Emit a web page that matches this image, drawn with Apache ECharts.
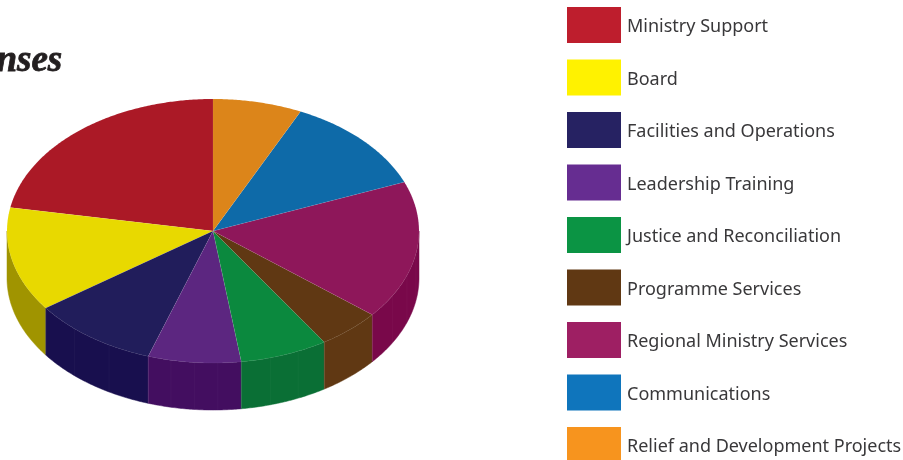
<!DOCTYPE html>
<html>
<head>
<meta charset="utf-8">
<style>html,body{margin:0;padding:0;background:#fff;overflow:hidden}#chart{width:903px;height:460px}</style>
<script src="https://cdn.jsdelivr.net/npm/echarts@6/dist/echarts.min.js"></script>
</head>
<body>
<div id="chart"></div>
<script>
// Expense shares, in percent, in legend order (counter-clockwise from 12 o'clock).
const categories = ['Ministry Support', 'Board', 'Facilities and Operations', 'Leadership Training',
  'Justice and Reconciliation', 'Programme Services', 'Regional Ministry Services', 'Communications',
  'Relief and Development Projects'];
const shares = [22.2, 12.8, 10.0, 7.3, 6.9, 5.0, 17.0, 12.0, 7.0];
const swatchColors = ['#be1e2d', '#fff200', '#262262', '#662d91', '#0b9444', '#603813', '#9e1f63', '#0f75bc', '#f7941e'];
const topColors = ['#ab1926', '#e8d900', '#211d5b', '#5c2680', '#0b893e', '#603813', '#8e175a', '#0e6aa8', '#dc851a'];
const wallColors = ['#7d0f1a', '#a09400', '#180f4e', '#430e60', '#0a6f35', '#603813', '#79084a', '#0b4d7c', '#a8650f'];
const wallPanels = [1, 1, 3, 4, 3, 1, 4, 1, 1];

// Tilted disc: ellipse centre, radii and extrusion height.
const CX = 213, CY = 231, RX = 206, RY = 132, DEPTH = 47;

const total = shares.reduce((a, b) => a + b, 0);
const pointAt = (deg, dy) => {
  const a = deg * Math.PI / 180;
  return [CX + RX * Math.sin(a), CY - RY * Math.cos(a) + (dy || 0)];
};
// Sweep angles measured clockwise from the top; slices run counter-clockwise.
const arcPoints = (from, to, dy) => {
  const steps = Math.max(2, Math.ceil(Math.abs(to - from) * 2));
  const out = [];
  for (let i = 0; i <= steps; i++) out.push(pointAt(from + (to - from) * i / steps, dy));
  return out;
};

function sliceRenderer(index) {
  return function (params, api) {
    const before = shares.slice(0, index).reduce((a, b) => a + b, 0);
    const value = api.value(0);
    const start = 360 - before / total * 360;
    const end = start - value / total * 360;
    const children = [];

    // Only the part of the rim facing the viewer (90°..270°) is visible.
    const wallFrom = Math.min(start, 270), wallTo = Math.max(end, 90);
    if (wallFrom > wallTo) {
      const upper = arcPoints(wallFrom, wallTo, 0);
      const lower = arcPoints(wallTo, wallFrom, DEPTH);
      children.push({
        type: 'polygon', z2: 1,
        shape: { points: upper.concat(lower) },
        style: { fill: wallColors[index], stroke: wallColors[index], lineWidth: 0.5 }
      });
      const panels = wallPanels[index];
      for (let p = 1; p < panels; p++) {
        const seam = wallFrom + (wallTo - wallFrom) * p / panels;
        const a = pointAt(seam, 0), b = pointAt(seam, DEPTH);
        children.push({
          type: 'line', z2: 2,
          shape: { x1: a[0], y1: a[1], x2: b[0], y2: b[1] },
          style: { stroke: 'rgba(255,255,255,0.03)', lineWidth: 1 }
        });
      }
      // Hairline where neighbouring walls meet.
      const e = pointAt(wallFrom, 0), f = pointAt(wallFrom, DEPTH);
      if (start <= 270) {
        children.push({
          type: 'line', z2: 2,
          shape: { x1: e[0], y1: e[1], x2: f[0], y2: f[1] },
          style: { stroke: 'rgba(255,255,255,0.16)', lineWidth: 0.6 }
        });
      }
    }

    children.push({
      type: 'polygon', z2: 3,
      shape: { points: [[CX, CY]].concat(arcPoints(start, end, 0)) },
      style: { fill: topColors[index], stroke: 'rgba(255,255,255,0.1)', lineWidth: 0.5 }
    });
    return { type: 'group', children };
  };
}

const chart = echarts.init(document.getElementById('chart'), null, { renderer: 'canvas' });
chart.setOption({
  animation: false,
  backgroundColor: '#ffffff',
  title: {
    text: 'Expenses',
    right: 840,
    top: 43,
    padding: 0,
    textStyle: {
      fontFamily: '"Liberation Serif"',
      fontStyle: 'italic',
      fontWeight: 'bold',
      fontSize: 37,
      color: '#231f20',
      textBorderColor: '#231f20',
      textBorderWidth: 0.8
    }
  },
  legend: {
    orient: 'vertical',
    left: 567,
    top: 7,
    height: 480,
    padding: 0,
    itemWidth: 54,
    itemHeight: 36,
    itemGap: 16.5,
    icon: 'rect',
    selectedMode: false,
    data: categories,
    formatter: '{t|{name}}',
    textStyle: {
      rich: {
        t: {
          fontFamily: '"Noto Sans"',
          fontSize: 18,
          color: '#39383a',
          padding: [4, 0, 0, 1]
        }
      }
    }
  },
  series: categories.map((name, i) => ({
    type: 'custom',
    name,
    coordinateSystem: 'none',
    silent: true,
    clip: false,
    itemStyle: { color: swatchColors[i] },
    data: [[shares[i]]],
    renderItem: sliceRenderer(i)
  }))
});
</script>
</body>
</html>
